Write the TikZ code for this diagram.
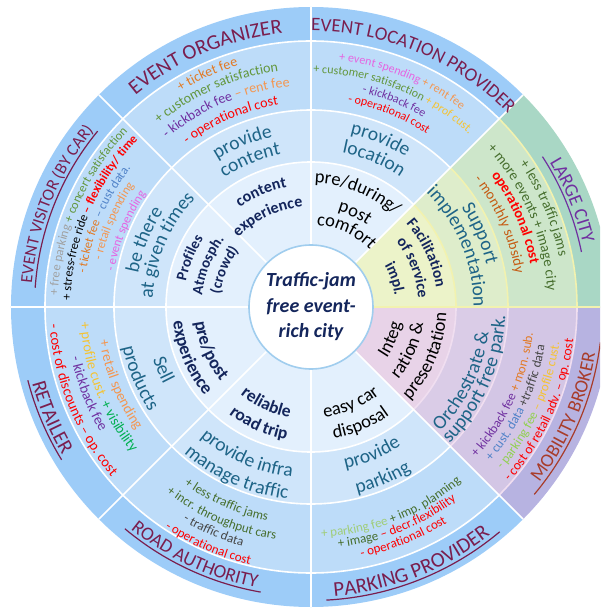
\documentclass[tikz,border=0pt]{standalone}
\usepackage{fontspec}
\setmainfont{Carlito}
\usetikzlibrary{decorations.text}

\definecolor{roleblue}{RGB}{157,204,248}
\definecolor{costblue}{RGB}{189,220,249}
\definecolor{midblue}{RGB}{207,229,250}
\definecolor{innerblue}{RGB}{227,240,253}
\definecolor{rolegreen}{RGB}{169,215,197}
\definecolor{costgreen}{RGB}{205,230,202}
\definecolor{midgreen}{RGB}{222,237,203}
\definecolor{innergreen}{RGB}{236,243,201}
\definecolor{rolepurple}{RGB}{183,179,225}
\definecolor{costpurple}{RGB}{211,198,229}
\definecolor{midpurple}{RGB}{218,204,231}
\definecolor{innerpurple}{RGB}{232,211,232}
\definecolor{greenline}{RGB}{242,242,175}
\definecolor{purpleline}{RGB}{240,222,240}
\definecolor{hubedge}{RGB}{160,205,238}
\definecolor{rolered}{RGB}{122,30,78}
\definecolor{cityviolet}{RGB}{112,48,160}
\definecolor{brokerred}{RGB}{168,60,42}
\definecolor{actteal}{RGB}{30,100,135}
\definecolor{valnavy}{RGB}{20,38,92}
\definecolor{plusorange}{RGB}{226,122,36}
\definecolor{lightorange}{RGB}{244,150,80}
\definecolor{plusgreen}{RGB}{98,150,60}
\definecolor{darkgreen}{RGB}{70,110,45}
\definecolor{kickpurple}{RGB}{112,48,160}
\definecolor{costred}{RGB}{255,0,0}
\definecolor{evpink}{RGB}{230,100,225}
\definecolor{gold}{RGB}{245,195,50}
\definecolor{palegreen}{RGB}{160,205,120}
\definecolor{limegreen}{RGB}{146,208,80}
\definecolor{brightgreen}{RGB}{0,176,80}
\definecolor{datagray}{RGB}{70,70,70}
\definecolor{freegray}{RGB}{160,160,160}
\definecolor{custblue}{RGB}{80,130,200}
\definecolor{subsidy}{RGB}{197,90,17}

\newcommand{\fs}[1]{\fontsize{#1}{#1}\selectfont\mdseries}
\newcommand{\actfont}{\fs{19.5}\color{actteal}}
\newcommand{\valfont}[1]{\fs{#1}\bfseries\color{valnavy}}
\newcommand{\blkfont}{\fs{18.5}\color{black}}

% ring segment: start, end, inner r, outer r, colour
\newcommand{\band}[5]{\fill[#5] (#1:#3pt) arc[start angle=#1,end angle=#2,radius=#3pt]
  -- (#2:#4pt) arc[start angle=#2,end angle=#1,radius=#4pt] -- cycle;}
% text on an arc, clockwise (upper half) and counter-clockwise (lower half)
\newcommand{\cwline}[3]{\path[decorate,decoration={text along path,text align=center,text={#3}}]
  ({#1+70}:#2pt) arc[start angle={#1+70},end angle={#1-70},radius=#2pt];}
\newcommand{\ccwline}[3]{\path[decorate,decoration={text along path,text align=center,text={#3}}]
  ({#1-70}:#2pt) arc[start angle={#1-70},end angle={#1+70},radius=#2pt];}
\newcommand{\uline}[4]{\draw[underl,#4] (#1:#3pt) arc[start angle=#1,end angle=#2,radius=#3pt];}

\begin{document}
\begin{tikzpicture}[x=1pt,y=1pt,
    sep/.style={draw=white,line width=1.6pt},
    underl/.style={line width=1.2pt}]
  \useasboundingbox (-311,-301) rectangle (289,307);
  \clip (-311,-301) rectangle (289,307);

  % rings
  \band{45}{315}{266}{300}{roleblue}
  \band{45}{315}{197}{266}{costblue}
  \band{45}{315}{145}{197}{midblue}
  \band{45}{315}{62}{145}{innerblue}
  \band{0}{45}{266}{300}{rolegreen}
  \band{0}{45}{197}{266}{costgreen}
  \band{0}{45}{145}{197}{midgreen}
  \band{0}{45}{62}{145}{innergreen}
  \band{-45}{0}{266}{300}{rolepurple}
  \band{-45}{0}{197}{266}{costpurple}
  \band{-45}{0}{145}{197}{midpurple}
  \band{-45}{0}{62}{145}{innerpurple}

  % separators
  \foreach \r in {145,197,266} {
    \draw[sep] (45:\r pt) arc[start angle=45,end angle=315,radius=\r pt];
    \draw[sep,draw=greenline] (0:\r pt) arc[start angle=0,end angle=45,radius=\r pt];
    \draw[sep,draw=purpleline] (-45:\r pt) arc[start angle=-45,end angle=0,radius=\r pt];
  }
  \foreach \a in {45,90,...,315} \draw[sep] (\a:62pt) -- (\a:300pt);
  \draw[sep,draw=greenline] (0:62pt) -- (0:300pt);

  \node[circle,fill=white,draw=hubedge,line width=1.6pt,minimum size=124pt,inner sep=0pt,
    align=center,text=valnavy,font=\fontsize{20}{25.5}\selectfont\bfseries\itshape] (hub) at (0,0)
    {Traffic-jam\\free event-\\rich city};

  % event organizer
  \cwline{112.8}{275}{|\fs{21}\color{rolered}|EVENT ORGANIZER}
  \cwline{114}{252}{|\fs{14}\color{plusorange}|+ ticket fee}
  \cwline{113.8}{238}{|\fs{14}\color{plusgreen}|+ customer satisfaction}
  \cwline{113}{221.5}{|\fs{14}\color{kickpurple}|- kickback fee |\fs{14}\color{lightorange}|– rent fee}
  \cwline{113.2}{204.5}{|\fs{14}\color{costred}|- operational cost}
  \cwline{112.6}{174.5}{|\actfont|provide}
  \cwline{112.5}{155.5}{|\actfont|content}
  \cwline{113.5}{122}{|\valfont{16}|content}
  \cwline{115.5}{100.5}{|\valfont{16}|experience}

  % event location provider
  \cwline{67.2}{276}{|\fs{19}\color{rolered}|EVENT LOCATION PROVIDER}
  \cwline{68.1}{248}{|\fs{12}\color{evpink}|+ event spending |\fs{12}\color{lightorange}|+ rent fee}
  \cwline{68.5}{234}{|\fs{12}\color{plusgreen}|+ customer satisfaction |\fs{12}\color{gold}|+ prof cust.}
  \cwline{68}{220.5}{|\fs{12}\color{kickpurple}|- kickback fee}
  \cwline{68}{208}{|\fs{12}\color{costred}|- operational cost}
  \cwline{67.5}{177.5}{|\actfont|provide}
  \cwline{67}{157.5}{|\actfont|location}
  \cwline{68}{124}{|\blkfont|pre/during/}
  \cwline{65}{99.5}{|\blkfont|post}
  \cwline{65}{82}{|\blkfont|comfort}

  % large city
  \cwline{22.2}{279}{|\fs{19}\color{cityviolet}|LARGE CITY}
  \uline{11.5}{33}{276}{cityviolet}
  \cwline{23}{253}{|\fs{14.5}\color{darkgreen}|+ less traffic jams}
  \cwline{22.9}{237}{|\fs{14.5}\color{darkgreen}|+ more events + image city}
  \cwline{23.6}{223.5}{|\fs{14.5}\bfseries\color{costred}|operational cost}
  \cwline{23.7}{207}{|\fs{14.5}\color{subsidy}|- monthly subsidy}
  \cwline{23.5}{180.5}{|\actfont|Support}
  \cwline{22.4}{162.5}{|\actfont|implementation}
  \cwline{25}{126.5}{|\valfont{15.5}|Facilitation}
  \cwline{21}{107.5}{|\valfont{15.5}|of service}
  \cwline{18.5}{84.5}{|\valfont{15.5}|impl.}

  % event visitor
  \cwline{158}{280}{|\fs{17}\color{rolered}|EVENT VISITOR (BY CAR)}
  \uline{140.5}{176}{276.5}{rolered}
  \cwline{156.8}{253.5}{|\fs{12.5}\color{freegray}|+ free parking |\fs{12.5}\color{plusgreen}|+ concert satisfaction}
  \cwline{157.2}{240.5}{|\fs{12.5}\color{black}|+ stress-free ride |\fs{12.5}\bfseries\color{costred}|– flexibility/ time}
  \cwline{157}{227.5}{|\fs{12.5}\color{plusorange}|- ticket fee |\fs{12.5}\color{custblue}|– cust data.}
  \cwline{156.5}{214.5}{|\fs{12.5}\color{lightorange}|- retail spending}
  \cwline{157.7}{200}{|\fs{12.5}\color{evpink}|- event spending}
  \cwline{158}{176}{|\actfont|be there}
  \cwline{157}{158.5}{|\actfont|at given times}
  \cwline{158}{127.5}{|\valfont{15}|Profiles}
  \cwline{158}{109.5}{|\valfont{15}|Atmosph.}
  \cwline{157}{91.5}{|\valfont{15}|(crowd)}

  % retailer
  \ccwline{203}{289}{|\fs{20.5}\color{rolered}|RETAILER}
  \uline{194.5}{211.5}{292.5}{rolered}
  \ccwline{202}{214}{|\fs{14.5}\color{lightorange}|+ retail spending}
  \ccwline{201.4}{231}{|\fs{14.5}\color{gold}|+ profile cust. |\fs{14.5}\color{brightgreen}|+ visibility}
  \ccwline{201.3}{245}{|\fs{14.5}\color{kickpurple}|- kickback fee}
  \ccwline{202.1}{262}{|\fs{14.5}\color{costred}|- cost of discounts – op. cost}
  \ccwline{203}{166.5}{|\actfont|Sell}
  \ccwline{202.5}{192.5}{|\actfont|products}
  \ccwline{203.5}{117}{|\valfont{18}|pre/post}
  \ccwline{203}{138.5}{|\valfont{18}|experience}

  % road authority
  \ccwline{245}{286}{|\fs{19}\color{rolered}|ROAD AUTHORITY}
  \uline{230}{260}{289.5}{rolered}
  \ccwline{246.4}{218}{|\fs{13}\color{darkgreen}|+ less traffic jams}
  \ccwline{246.7}{235}{|\fs{13}\color{darkgreen}|+ incr. throughput cars}
  \ccwline{246.5}{249}{|\fs{13}\color{datagray}|- traffic data}
  \ccwline{246.6}{265}{|\fs{13}\color{costred}|- operational cost}
  \ccwline{246.6}{171}{|\actfont|provide infra}
  \ccwline{246}{193.5}{|\actfont|manage traffic}
  \ccwline{245}{112.5}{|\valfont{17.5}|reliable}
  \ccwline{246}{135}{|\valfont{17.5}|road trip}

  % parking provider
  \ccwline{-68.6}{290}{|\fs{21}\color{rolered}|PARKING PROVIDER}
  \uline{-87}{-50}{293.5}{rolered}
  \ccwline{-68.4}{230.5}{|\fs{13}\color{palegreen}|+ parking fee |\fs{13}\color{darkgreen}|+ imp. planning}
  \ccwline{-68.3}{242}{|\fs{13}\color{darkgreen}|+ image |\fs{13}\color{costred}|– decr.flexibility}
  \ccwline{-68.2}{255}{|\fs{13}\color{costred}|- operational cost}
  \ccwline{-67.5}{165.5}{|\actfont|provide}
  \ccwline{-67.3}{192}{|\actfont|parking}
  \ccwline{-67.5}{111}{|\blkfont|easy car}
  \ccwline{-67}{133.5}{|\blkfont|disposal}

  % mobility broker
  \ccwline{-23.4}{288}{|\fs{19}\color{brokerred}|MOBILITY BROKER}
  \uline{-40}{-7}{291.5}{brokerred}
  \ccwline{-24.5}{223.5}{|\fs{13}\color{kickpurple}|+ kickback fee |\fs{13}\color{plusorange}|+ mon. sub.}
  \ccwline{-25}{237}{|\fs{13}\color{custblue}|+ cust. data |\fs{13}\color{datagray}|+traffic data}
  \ccwline{-24.3}{251}{|\fs{13}\color{limegreen}|- parking fee |\fs{13}\color{gold}|– profile cust.}
  \ccwline{-24.2}{264.5}{|\fs{13.5}\color{costred}|- cost of retail adv. – op. cost}
  \ccwline{-26}{179.5}{|\actfont|Orchestrate {\&}}
  \ccwline{-23.5}{194.5}{|\actfont|support free park.}
  \ccwline{-22}{91.5}{|\blkfont|Integ}
  \ccwline{-24}{113.5}{|\blkfont|ration {\&}}
  \ccwline{-23}{135.5}{|\blkfont|presentation}
\end{tikzpicture}
\end{document}
